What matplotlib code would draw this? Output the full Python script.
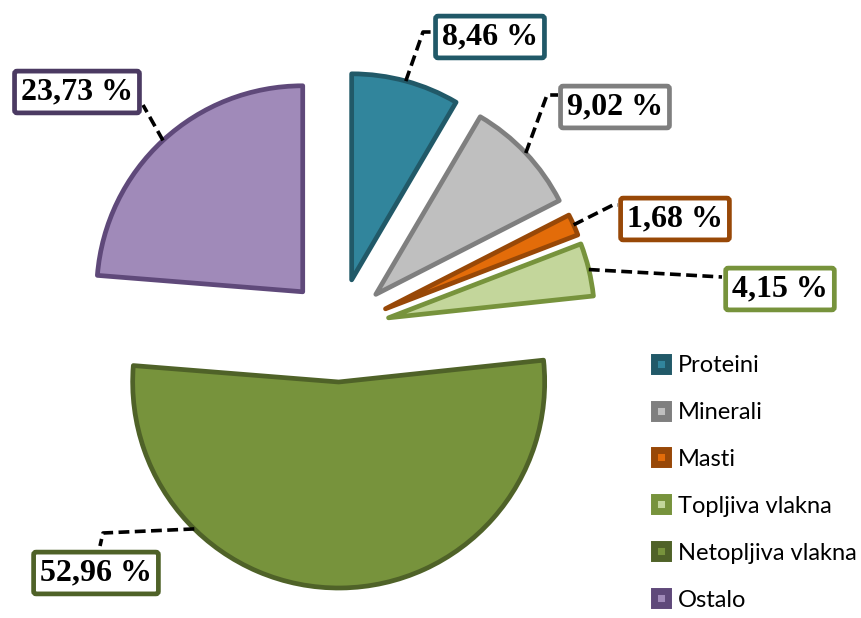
import numpy as np
import matplotlib.pyplot as plt
from matplotlib.lines import Line2D

W, H = 861, 618

names = ['Proteini', 'Minerali', 'Masti', 'Topljiva vlakna', 'Netopljiva vlakna', 'Ostalo']
shares = [8.46, 9.02, 1.68, 4.15, 52.96, 23.73]
labels = ['8,46 %', '9,02 %', '1,68 %', '4,15 %', '52,96 %', '23,73 %']

fills = ['#31859C', '#BFBFBF', '#E36C09', '#C3D69B', '#77933C', '#A08AB9']
edges = ['#215968', '#7F7F7F', '#984807', '#77933C', '#4F6228', '#5F497A']
box_edges = ['#215968', '#7F7F7F', '#984807', '#77933C', '#4F6228', '#4B3A62']

# layout in pixels (origin top-left)
box_xy = [(490, 37), (615, 107), (675, 219), (780, 289), (96, 573), (77, 92)]
leader_pts = [[(423, 32), (433, 32)],
              [(547, 95), (558, 95)],
              [(613, 205), (618, 205)],
              [(722, 277)],
              [(103, 533), (100, 546)],
              [(143, 105)]]
anchor_ang = [None, None, None, None, 225.5, None]

def px(x, y):
    return x, H - y

fig = plt.figure(figsize=(W / 100, H / 100), dpi=100)
ax = fig.add_axes([0, 0, 1, 1])

R = 206
wedges, _ = ax.pie(shares, colors=fills, startangle=90, counterclock=False,
                   radius=R, center=px(338, 330), explode=[52] * len(shares),
                   wedgeprops=dict(linewidth=3.4, joinstyle='round'))
for w, ec in zip(wedges, edges):
    w.set_edgecolor(ec)

for i, w in enumerate(wedges):
    ang = anchor_ang[i]
    if ang is None:
        ang = (w.theta1 + w.theta2) / 2
    cx, cy = w.center
    a = np.deg2rad(ang)
    xs = [cx + R * np.cos(a)] + [px(*p)[0] for p in leader_pts[i]]
    ys = [cy + R * np.sin(a)] + [px(*p)[1] for p in leader_pts[i]]
    ax.plot(xs, ys, color='black', lw=2.6, linestyle=(0, (3.0, 1.5)), zorder=3)
    ax.text(*px(*box_xy[i]), labels[i], ha='center', va='center',
            fontsize=23, fontweight='bold', family='Liberation Serif', zorder=5,
            bbox=dict(boxstyle='round,pad=0.2,rounding_size=0.08', fc='white',
                      ec=box_edges[i], lw=3.4))

handles = [Line2D([], [], ls='none', marker='s', markersize=10, markerfacecolor=f,
                  markeredgecolor=e, markeredgewidth=5, label=n)
           for f, e, n in zip(fills, edges, names)]
leg = ax.legend(handles=handles, loc='upper left', bbox_to_anchor=(640 / W, 1 - 343 / H),
                frameon=False, prop={'family': 'Lato', 'size': 17},
                labelspacing=1.1, handlelength=0.8, handletextpad=0.3, borderpad=0)

ax.set_xlim(0, W)
ax.set_ylim(0, H)
ax.axis('off')
fig.savefig('out.png', dpi=100)
